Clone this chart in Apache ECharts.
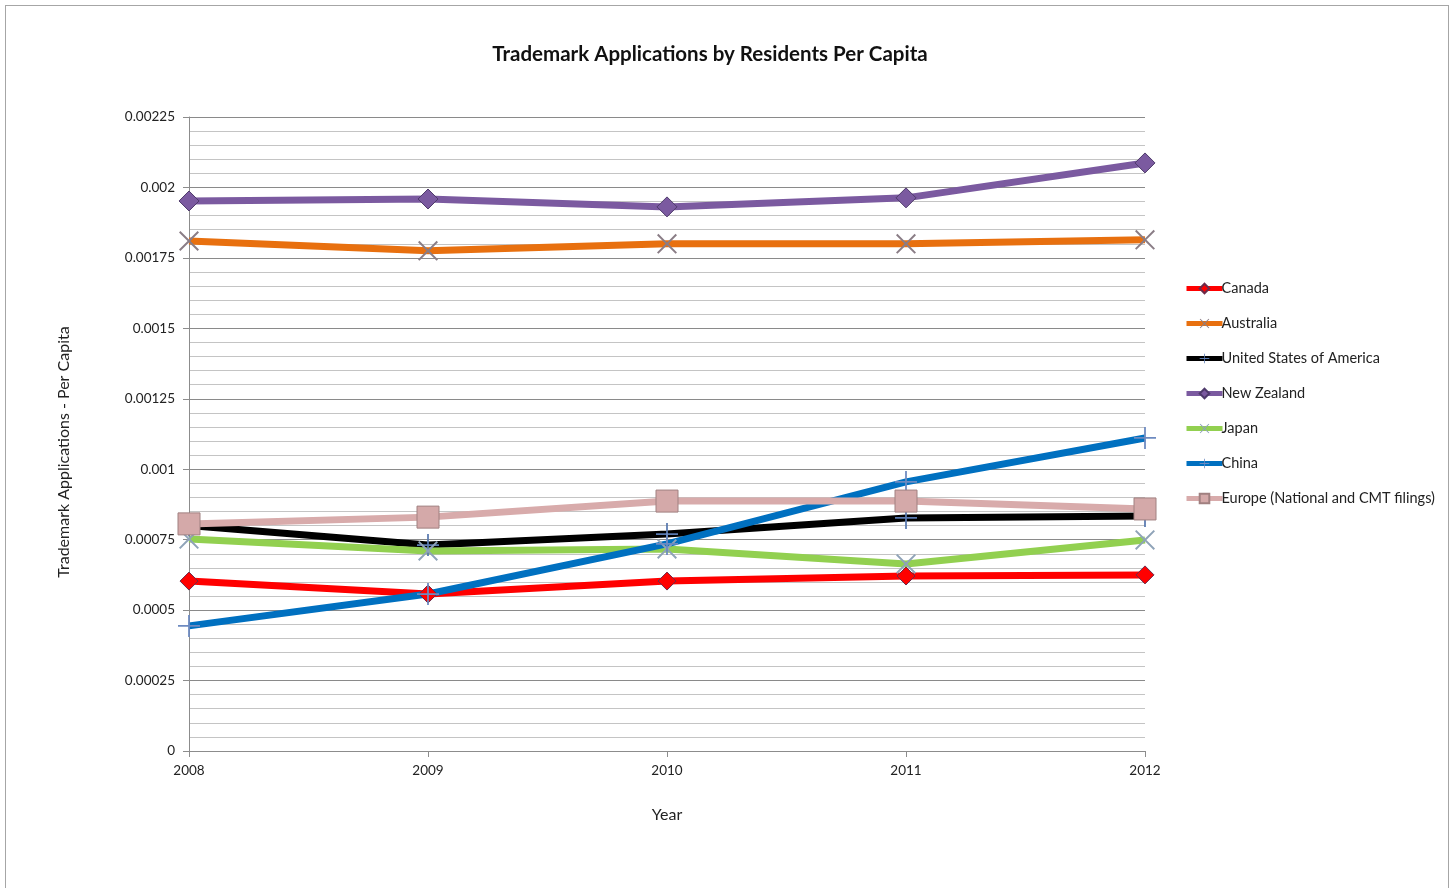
<!DOCTYPE html>
<html lang="en">
<head>
<meta charset="UTF-8">
<title>Trademark Applications by Residents Per Capita</title>
<style>
    body {
        margin: 0;
        padding: 0;
        background: #fff;
    }
    /* frame around the chart area, open at the bottom */
    .frame {
        position: absolute;
        left: 5px;
        top: 5px;
        width: 1442px;
        height: 900px;
        border: 1px solid #a6a6a6;
        border-bottom: none;
    }
    #chart {
        position: absolute;
        left: 0;
        top: 0;
        width: 1453px;
        height: 888px;
    }
</style>
</head>
<body>
<script src="https://cdn.jsdelivr.net/npm/echarts@6/dist/echarts.min.js"></script>
<div class="frame"></div>
<div id="chart"></div>
<script>
// data
var years = ['2008', '2009', '2010', '2011', '2012'];
var canada    = [0.000603, 0.000557, 0.000603, 0.000621, 0.000625];
var australia = [0.00181, 0.001775, 0.0018, 0.0018, 0.001814];
var usa       = [0.0008, 0.000731, 0.00077, 0.000827, 0.000834];
var newZealand = [0.001952, 0.001959, 0.001931, 0.001963, 0.002087];
var japan     = [0.000752, 0.00071, 0.000717, 0.000664, 0.000749];
var china     = [0.000444, 0.000557, 0.000735, 0.000955, 0.001111];
var europe    = [0.000806, 0.00083, 0.000887, 0.000887, 0.000859];

// thin cross shapes for the X and + markers
var crossX = 'path://M0.7,0L5,4.3L9.3,0L10,0.7L5.7,5L10,9.3L9.3,10L5,5.7L0.7,10L0,9.3L4.3,5L0,0.7Z';
var crossPlus = 'path://M4.6,0H5.4V4.6H10V5.4H5.4V10H4.6V5.4H0V4.6H4.6Z';

function makeSeries(name, data, color, symbol, size, markColor, markBorder) {
    return {
        name: name,
        type: 'line',
        data: data,
        symbol: symbol,
        symbolSize: size,
        showSymbol: true,
        lineStyle: { width: 7, color: color },
        itemStyle: {
            color: markColor,
            borderColor: markBorder,
            borderWidth: markBorder ? 1 : 0
        },
        z: 2
    };
}

var myChart = echarts.init(document.getElementById('chart'));

var option = {
    backgroundColor: 'transparent',
    animation: false,
    textStyle: { fontFamily: 'Lato, "Open Sans", sans-serif' },
    title: {
        text: 'Trademark Applications by Residents Per Capita',
        left: 705,
        textAlign: 'center',
        top: 39,
        textStyle: { fontSize: 20.5, fontWeight: 'bold', color: '#111' }
    },
    legend: {
        orient: 'vertical',
        left: 1179,
        top: 276,
        itemGap: 20,
        itemWidth: 36,
        itemHeight: 12,
        lineStyle: { width: 5 },
        textStyle: { fontSize: 14.5, lineHeight: 12, color: '#222', padding: [0, 0, 0, -6] },
        data: ['Canada', 'Australia', 'United States of America', 'New Zealand', 'Japan', 'China', 'Europe (National and CMT filings)']
    },
    grid: {
        left: 189,
        right: 308,
        top: 117,
        bottom: 137,
        containLabel: false
    },
    xAxis: {
        type: 'category',
        data: years,
        boundaryGap: false,
        name: 'Year',
        nameLocation: 'middle',
        nameGap: 56,
        nameTextStyle: { fontSize: 16, color: '#222' },
        axisLine: { lineStyle: { color: '#8c8c8c' } },
        axisTick: { show: true, length: 6, lineStyle: { color: '#8c8c8c' } },
        axisLabel: { fontSize: 13.5, color: '#222', margin: 13 },
        splitLine: { show: false }
    },
    yAxis: {
        type: 'value',
        min: 0,
        max: 0.00225,
        interval: 0.00025,
        name: 'Trademark Applications - Per Capita',
        nameLocation: 'middle',
        nameGap: 117,
        nameTextStyle: { fontSize: 16, color: '#222', padding: [0, 36, 0, 0] },
        axisLine: { show: true, lineStyle: { color: '#8c8c8c' } },
        axisTick: { show: true, length: 6, lineStyle: { color: '#8c8c8c' } },
        axisLabel: {
            fontSize: 13.5,
            color: '#222',
            margin: 14,
            formatter: function (v) { return String(+v.toFixed(5)); }
        },
        splitLine: { show: true, lineStyle: { color: '#8a8a8a', width: 1 } },
        minorTick: { show: false, splitNumber: 5 },
        minorSplitLine: { show: true, lineStyle: { color: '#c4c4c4', width: 1 } }
    },
    series: [
        makeSeries('Canada', canada, '#ff0000', 'diamond', 18, '#ff0000', '#6b2b4a'),
        makeSeries('Australia', australia, '#e8700f', crossX, 20, '#8a7d86', null),
        makeSeries('United States of America', usa, '#000000', crossPlus, 22, '#5a7ab0', null),
        makeSeries('New Zealand', newZealand, '#7b5aa0', 'diamond', 20, '#7b5aa0', '#4e3a6b'),
        makeSeries('Japan', japan, '#92d050', crossX, 20, '#8fa3b8', null),
        makeSeries('China', china, '#0070c0', crossPlus, 22, '#6d8ac0', null),
        makeSeries('Europe (National and CMT filings)', europe, '#d8abab', 'rect', 22, '#d4a9a9', '#a08080')
    ]
};

myChart.setOption(option);
</script>
</body>
</html>
